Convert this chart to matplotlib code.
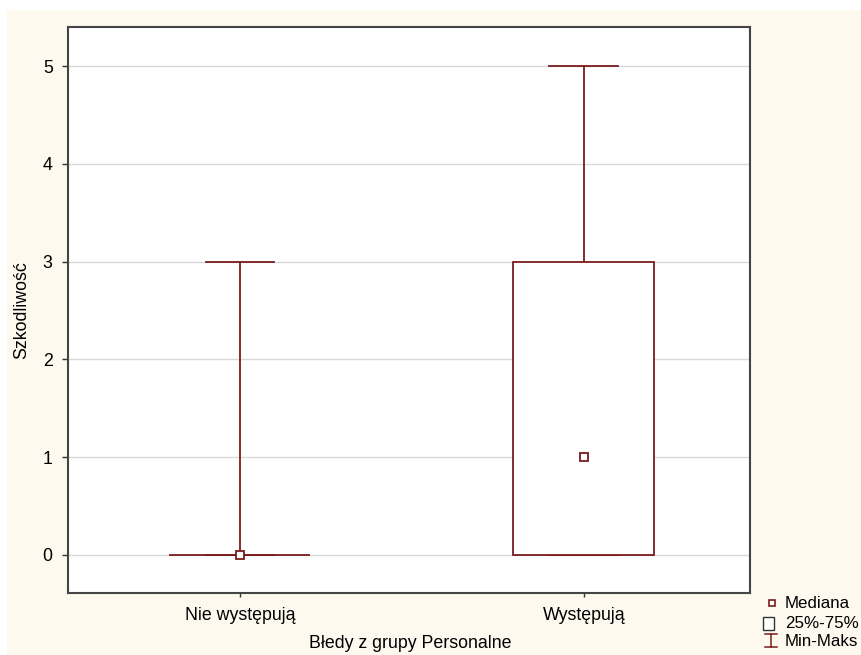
import matplotlib
matplotlib.use("Agg")
import matplotlib.pyplot as plt
from matplotlib.patches import Rectangle
from matplotlib.lines import Line2D

plt.rcParams['font.family'] = ['Liberation Sans', 'DejaVu Sans']

categories = ["Nie występują", "Występują"]
mins = [0, 0]
q1s = [0, 0]
medians = [0, 1]
q3s = [0, 3]
maxs = [3, 5]
yticks = [0, 1, 2, 3, 4, 5]
legend_labels = ["Mediana", "25%-75%", "Min-Maks"]

col = "#7a1c1c"
bg = "#fdf9ef"
W, H = 862, 655
fs = 12.8

fig = plt.figure(figsize=(W / 100, H / 100), dpi=100)
fig.patch.set_facecolor("white")
fig.add_artist(Rectangle((7 / W, 0), 1, 1 - 10 / H, transform=fig.transFigure,
                         facecolor=bg, edgecolor="none", zorder=-10))
ax = fig.add_axes([68 / W, 1 - 593 / H, (750 - 68) / W, (593 - 27) / H])
ax.set_facecolor("white")

box_w = 0.41
cap_w = 0.2
for i in range(len(categories)):
    ax.plot([i, i], [q3s[i], maxs[i]], color=col, lw=1.3, zorder=3)
    ax.plot([i, i], [mins[i], q1s[i]], color=col, lw=1.3, zorder=3)
    ax.plot([i - cap_w / 2, i + cap_w / 2], [maxs[i], maxs[i]], color=col, lw=1.3, zorder=3)
    ax.plot([i - cap_w / 2, i + cap_w / 2], [mins[i], mins[i]], color=col, lw=1.3, zorder=3)
    ax.add_patch(Rectangle((i - box_w / 2, q1s[i]), box_w, q3s[i] - q1s[i],
                           facecolor="white", edgecolor=col, lw=1.3, zorder=3))
    ax.plot([i], [medians[i]], marker="s", ms=6, mfc="white", mec=col, mew=1.3,
            ls="none", zorder=4)

ax.set_xlim(-0.5, 1.483)
ax.set_ylim(-0.39, 5.4)
ax.set_yticks(yticks)
ax.set_xticks(range(len(categories)))
ax.set_xticklabels(categories, fontsize=fs)
ax.tick_params(axis="y", labelsize=fs, length=4, width=1, color="#333333", pad=7)
ax.tick_params(axis="x", length=3, width=1, color="#333333", pad=7)
ax.grid(axis="y", color="#d8d8d8", lw=1, zorder=0)
ax.set_axisbelow(True)
for s in ax.spines.values():
    s.set_color("#444444")
    s.set_linewidth(1.5)

fig.text(22 / W, 1 - 310 / H, "Szkodliwość", rotation=90, ha="center", va="center", fontsize=fs)
fig.text(410 / W, 1 - 644 / H, "Błedy z grupy Personalne", ha="center", va="center", fontsize=fs)

def fx(x):
    return x / W

def fy(y):
    return 1 - y / H

ys = [603, 623, 642]
# median marker
fig.add_artist(Rectangle((fx(769.5), fy(606)), 6 / W, 6 / H, transform=fig.transFigure,
                         facecolor="white", edgecolor=col, lw=1.2))
# box marker
fig.add_artist(Rectangle((fx(763.5), fy(630)), 11 / W, 13 / H, transform=fig.transFigure,
                         facecolor="white", edgecolor="#333333", lw=1.0))
# I-beam
fig.add_artist(Line2D([fx(771), fx(771)], [fy(634), fy(647)], transform=fig.transFigure,
                      color=col, lw=1.1))
fig.add_artist(Line2D([fx(765), fx(777)], [fy(634), fy(634)], transform=fig.transFigure,
                      color=col, lw=1.1))
fig.add_artist(Line2D([fx(765), fx(777)], [fy(647), fy(647)], transform=fig.transFigure,
                      color=col, lw=1.1))
for lab, y in zip(legend_labels, ys):
    fig.text(fx(785), fy(y), lab, ha="left", va="center", fontsize=12.2)

fig.savefig("out.png", dpi=100, facecolor=fig.get_facecolor())
